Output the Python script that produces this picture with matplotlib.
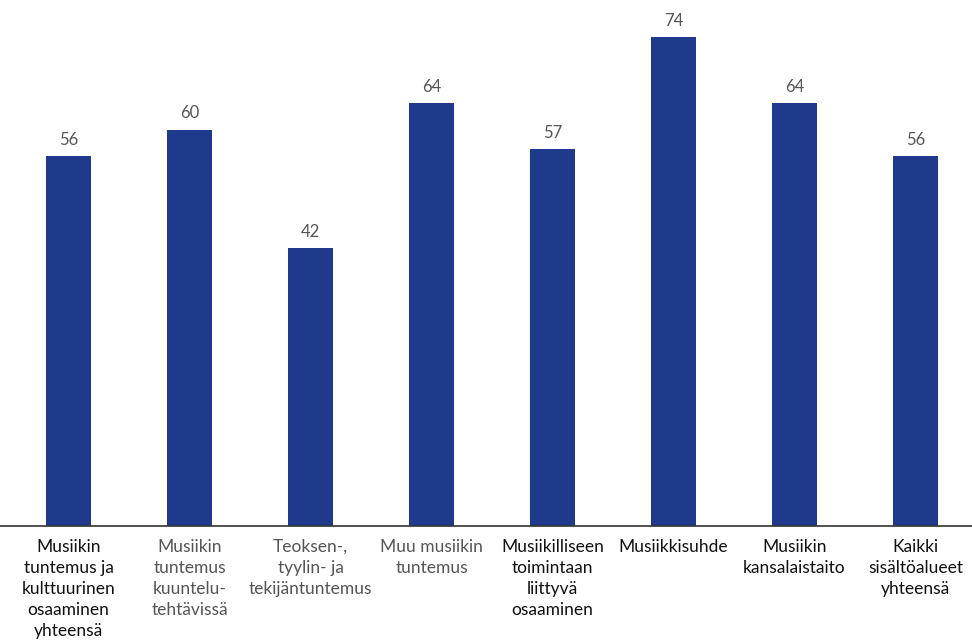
import matplotlib.pyplot as plt

categories = [
    "Musiikin\ntuntemus ja\nkulttuurinen\nosaaminen\nyhteensä",
    "Musiikin\ntuntemus\nkuuntelu-\ntehtävissä",
    "Teoksen-,\ntyylin- ja\ntekijäntuntemus",
    "Muu musiikin\ntuntemus",
    "Musiikilliseen\ntoimintaan\nliittyvä\nosaaminen",
    "Musiikkisuhde",
    "Musiikin\nkansalaistaito",
    "Kaikki\nsisältöalueet\nyhteensä",
]
values = [56, 60, 42, 64, 57, 74, 64, 56]
main_category = [True, False, False, False, True, True, True, True]

plt.rcParams["font.family"] = ["Lato", "DejaVu Sans"]

fig = plt.figure(figsize=(9.72, 6.43), dpi=100)
ax = fig.add_axes([0, 117 / 643, 1, 526 / 643])

x = range(len(values))
ax.bar(x, values, width=0.372, color="#1f3a8c")

for xi, v in zip(x, values):
    ax.annotate(str(v), (xi, v), xytext=(0, 6), textcoords="offset points",
                ha="center", va="bottom", fontsize=12, color="#555555")

ax.set_xlim(-68.5 / 121, (972 - 68.5) / 121)
ax.set_ylim(0, 526 / 6.608)

for spine in ["top", "right", "left"]:
    ax.spines[spine].set_visible(False)
ax.spines["bottom"].set_color("#333333")
ax.spines["bottom"].set_linewidth(1.2)
ax.set_yticks([])
ax.set_xticks(list(x))
ax.set_xticklabels(categories, fontsize=12.5, linespacing=1.4)
ax.tick_params(axis="x", length=0, pad=9)
for lbl, main in zip(ax.get_xticklabels(), main_category):
    lbl.set_color("#111111" if main else "#555555")

fig.savefig("out.png", dpi=100)
